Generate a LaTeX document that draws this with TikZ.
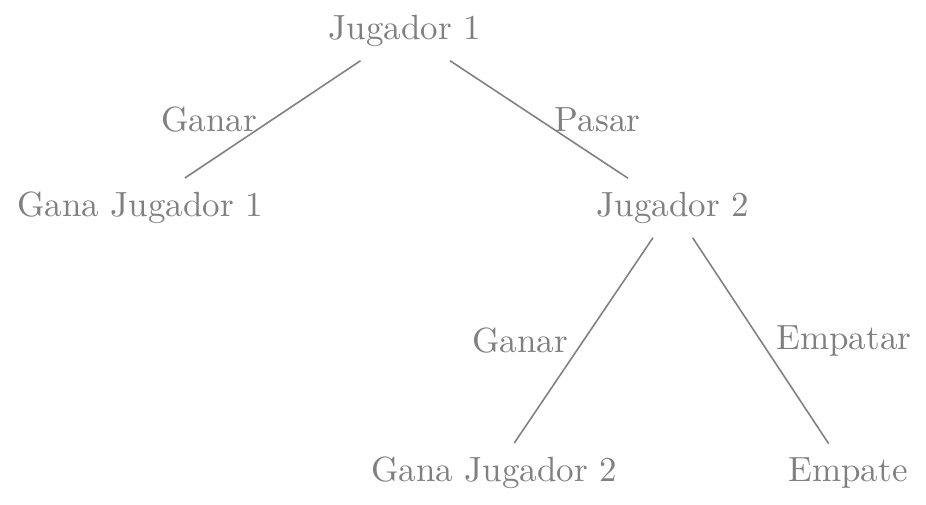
\documentclass[tikz,border=0pt]{standalone}
\begin{document}
\begin{tikzpicture}[x=0.2857pt,y=-0.2857pt,
  tn/.style={text=gray,inner xsep=3.33pt,inner ysep=3.8pt},
  edg/.style={draw=gray,line width=0.45pt},
  lbl/.style={text=gray,inner sep=4.3pt}]
\useasboundingbox (0,0) rectangle (926,504);
\node[tn] (j1) at (405,31) {Jugador 1};
\node[tn] (g1) at (140,208) {Gana Jugador 1};
\node[tn] (j2) at (673,208) {Jugador 2};
\node[tn] (g2) at (494,473) {Gana Jugador 2};
\node[tn] (em) at (848,473) {Empate};
\draw[edg] (j1) -- node[lbl,anchor=east] {Ganar} (g1);
\draw[edg] (j1) -- node[lbl,anchor=west] {Pasar} (j2);
\draw[edg] (j2) -- node[lbl,anchor=east] {Ganar} (g2);
\draw[edg] (j2) -- node[lbl,anchor=west] {Empatar} (em);
\end{tikzpicture}
\end{document}
